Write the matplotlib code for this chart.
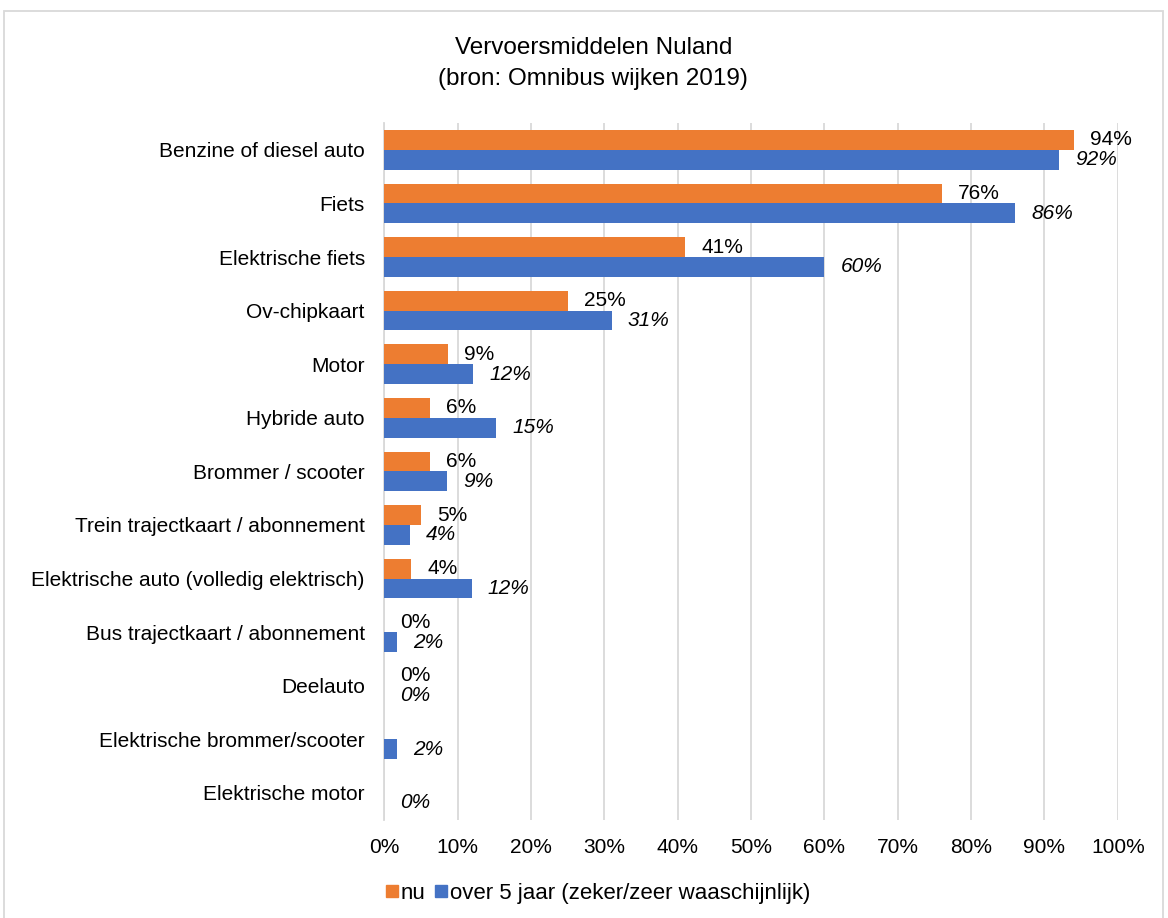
import matplotlib.pyplot as plt
import numpy as np
from matplotlib.patches import Rectangle
from matplotlib.lines import Line2D

plt.rcParams['font.family'] = ['Liberation Sans', 'DejaVu Sans']

categories = ['Benzine of diesel auto', 'Fiets', 'Elektrische fiets', 'Ov-chipkaart', 'Motor',
              'Hybride auto', 'Brommer / scooter', 'Trein trajectkaart / abonnement',
              'Elektrische auto (volledig elektrisch)', 'Bus trajectkaart / abonnement',
              'Deelauto', 'Elektrische brommer/scooter', 'Elektrische motor']
# None = no value shown in the source
nu = [94, 76, 41, 25, 8.7, 6.2, 6.2, 5.0, 3.7, 0, 0, None, None]
over5 = [92, 86, 60, 31, 12.1, 15.3, 8.6, 3.5, 11.9, 1.8, 0, 1.8, 0]
xticks = [0, 10, 20, 30, 40, 50, 60, 70, 80, 90, 100]

orange = '#ED7D31'
blue = '#4472C4'
fs = 15

fig = plt.figure(figsize=(11.68, 9.18), dpi=100)
ax = fig.add_axes([0.329, 0.107, 0.628, 0.759])

y = np.arange(len(categories))
h = 0.37
nu_vals = [v if v is not None else 0 for v in nu]
ax.barh(y - h / 2, nu_vals, height=h, color=orange, label='nu', zorder=3)
ax.barh(y + h / 2, over5, height=h, color=blue,
        label='over 5 jaar (zeker/zeer waaschijnlijk)', zorder=3)

for i, v in enumerate(nu):
    if v is not None:
        ax.annotate(f'{v:.0f}%', (v, y[i] - h / 2), xytext=(16, 0), textcoords='offset pixels',
                    va='center', ha='left', fontsize=fs)
for i, v in enumerate(over5):
    ax.annotate(f'{v:.0f}%', (v, y[i] + h / 2), xytext=(16, 0), textcoords='offset pixels',
                va='center', ha='left', fontsize=fs, style='italic')

ax.set_xlim(0, 100)
ax.set_ylim(len(categories) - 0.5, -0.5)
ax.set_yticks(y)
ax.set_yticklabels(categories, fontsize=fs)
ax.set_xticks(xticks)
ax.set_xticklabels([f'{t}%' for t in xticks], fontsize=fs)
ax.tick_params(length=0)
ax.tick_params(axis='y', pad=14)
ax.tick_params(axis='x', pad=13)
ax.xaxis.grid(True, color='#D9D9D9', linewidth=1.3, zorder=0)
for s in ['top', 'right', 'bottom']:
    ax.spines[s].set_visible(False)
ax.spines['left'].set_color('#D9D9D9')
ax.spines['left'].set_linewidth(1.3)

fig.text(0.508, 0.948, 'Vervoersmiddelen Nuland', ha='center', va='center', fontsize=17.5)
fig.text(0.508, 0.914, '(bron: Omnibus wijken 2019)', ha='center', va='center', fontsize=17.5)

handles = [Line2D([], [], marker='s', linestyle='', color=orange, markersize=8),
           Line2D([], [], marker='s', linestyle='', color=blue, markersize=8)]
fig.legend(handles, ['nu', 'over 5 jaar (zeker/zeer waaschijnlijk)'], loc='center left',
           bbox_to_anchor=(0.311, 0.027), ncol=2, frameon=False, fontsize=16,
           handletextpad=0.0, columnspacing=0.3, handlelength=0.8)

fig.patches.append(Rectangle((0.003, -0.01), 0.993, 0.998, transform=fig.transFigure,
                             fill=False, edgecolor='#D9D9D9', linewidth=1.3))

fig.savefig('out.png', dpi=100)
